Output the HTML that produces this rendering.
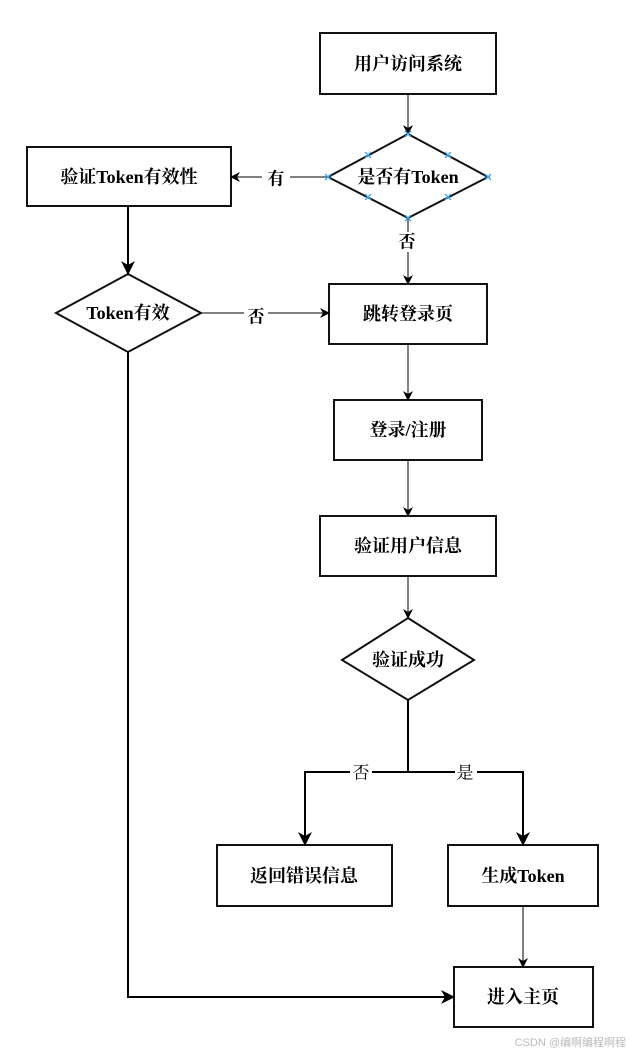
<!DOCTYPE html>
<html><head><meta charset="utf-8"><style>
html,body{margin:0;padding:0;background:#fff;}
svg{display:block;}
.t{font-family:"Liberation Serif","Noto Serif CJK SC",serif;font-size:18px;font-weight:bold;fill:#000;text-anchor:middle;dominant-baseline:central;}
.l{font-family:"Liberation Serif","Noto Serif CJK SC",serif;font-size:17px;fill:#000;text-anchor:middle;dominant-baseline:central;}
.lb{font-weight:bold;}
</style></head><body>
<svg width="633" height="1058" viewBox="0 0 633 1058" xmlns="http://www.w3.org/2000/svg">
<defs>
<marker id="a" markerWidth="10" markerHeight="10" refX="9" refY="5" orient="auto" markerUnits="userSpaceOnUse"><path d="M0,0 L10,5 L0,10 L3,5 Z" fill="#000"/></marker>
<marker id="b" markerWidth="14" markerHeight="14" refX="13" refY="7" orient="auto" markerUnits="userSpaceOnUse"><path d="M0,0 L14,7 L0,14 L4,7 Z" fill="#000"/></marker>
</defs>
<g fill="#fff" stroke="#111" stroke-width="2">
<rect x="320" y="33" width="176" height="61"/>
<polygon points="408,134 488,177 408,218 328,177"/>
<rect x="27" y="147" width="204" height="59"/>
<polygon points="128,274 201,313 128,352 56,313"/>
<rect x="329" y="284" width="158" height="60"/>
<rect x="334" y="400" width="148" height="60"/>
<rect x="320" y="516" width="176" height="60"/>
<polygon points="408,618 474,660 408,700 342,660"/>
<rect x="217" y="845" width="175" height="61"/>
<rect x="448" y="845" width="150" height="61"/>
<rect x="454" y="967" width="139" height="60"/>
</g>
<g fill="none" stroke="#000" stroke-width="1">
<line x1="408" y1="94" x2="408" y2="134" marker-end="url(#a)"/>
<line x1="328" y1="177" x2="231" y2="177" marker-end="url(#a)"/>
<line x1="408" y1="218" x2="408" y2="284" marker-end="url(#a)"/>
<line x1="201" y1="313" x2="329" y2="313" marker-end="url(#a)"/>
<line x1="408" y1="344" x2="408" y2="400" marker-end="url(#a)"/>
<line x1="408" y1="460" x2="408" y2="516" marker-end="url(#a)"/>
<line x1="408" y1="576" x2="408" y2="618" marker-end="url(#a)"/>
<line x1="523" y1="906" x2="523" y2="967" marker-end="url(#a)"/>
</g>
<g fill="none" stroke="#000" stroke-width="2">
<line x1="128" y1="206" x2="128" y2="274" marker-end="url(#b)"/>
<polyline points="128,352 128,997 454,997" marker-end="url(#b)"/>
<line x1="408" y1="700" x2="408" y2="772"/>
<polyline points="408,772 305,772 305,845" marker-end="url(#b)"/>
<polyline points="408,772 523,772 523,845" marker-end="url(#b)"/>
</g>
<g stroke="#3fa9f5" stroke-width="1.3">
<path d="M405,131l6,6M411,131l-6,6 M405,215l6,6M411,215l-6,6 M325,174l6,6M331,174l-6,6 M485,174l6,6M491,174l-6,6 M365,152l6,6M371,152l-6,6 M445,152l6,6M451,152l-6,6 M365,194l6,6M371,194l-6,6 M445,194l6,6M451,194l-6,6"/>
</g>
<rect x="262" y="168" width="28" height="20" fill="#fff"/>
<text class="l lb" x="276" y="179">有</text>
<rect x="398" y="232" width="20" height="20" fill="#fff"/>
<text class="l lb" x="407" y="242">否</text>
<rect x="244" y="306" width="24" height="18" fill="#fff"/>
<text class="l lb" x="256" y="317">否</text>
<rect x="350" y="764" width="22" height="18" fill="#fff"/>
<text class="l" x="361" y="773">否</text>
<rect x="455" y="764" width="22" height="18" fill="#fff"/>
<text class="l" x="465" y="773">是</text>
<text class="t" x="408" y="64">用户访问系统</text>
<text class="t" x="408" y="177">是否有Token</text>
<text class="t" x="129" y="177">验证Token有效性</text>
<text class="t" x="128" y="313">Token有效</text>
<text class="t" x="408" y="314">跳转登录页</text>
<text class="t" x="408" y="430">登录/注册</text>
<text class="t" x="408" y="546">验证用户信息</text>
<text class="t" x="408" y="660">验证成功</text>
<text class="t" x="304" y="876">返回错误信息</text>
<text class="t" x="523" y="876">生成Token</text>
<text class="t" x="523" y="997">进入主页</text>
<text x="626" y="1046" style="font-family:'Liberation Sans','Noto Sans CJK SC',sans-serif;font-size:11px;fill:#bbb;text-anchor:end;">CSDN @编啊编程啊程</text>
</svg>
</body></html>
